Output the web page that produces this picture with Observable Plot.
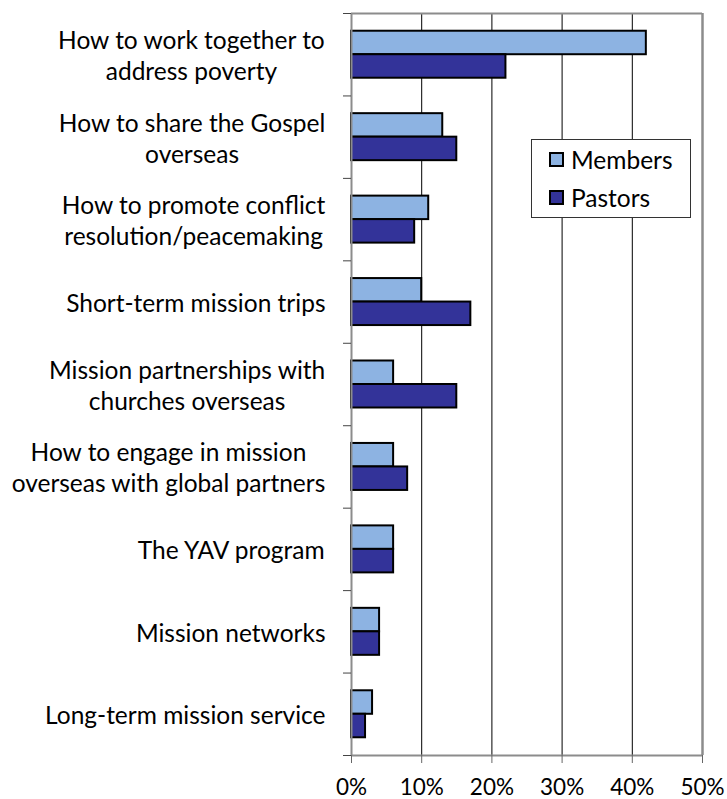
<!DOCTYPE html>
<html>
<head>
<meta charset="utf-8">
<script src="https://cdn.jsdelivr.net/npm/d3@7"></script>
<script src="https://cdn.jsdelivr.net/npm/@observablehq/plot@0.6"></script>
<style>
  html, body { margin: 0; padding: 0; background: #fff; }
  #wrap { position: relative; width: 727px; height: 799px; font-family: Lato, sans-serif; }
  #legend { position: absolute; left: 531px; top: 139px; width: 160px; height: 79px;
    border: 1px solid #333; background: #fff; box-sizing: border-box; font-family: Lato, sans-serif; font-size: 24.5px; color: #000; }
  .item { position: absolute; left: 17px; display: flex; align-items: center; }
  .sw { width: 11px; height: 11px; border: 2px solid #000; margin-right: 7px; }
</style>
</head>
<body>
<div id="wrap"><div id="chart"></div><div id="legend"></div></div>
<script>
const categories = [
  "How to work together to\naddress poverty",
  "How to share the Gospel\noverseas",
  "How to promote conflict\nresolution/peacemaking",
  "Short-term mission trips",
  "Mission partnerships with\nchurches overseas",
  "How to engage in mission\noverseas with global partners",
  "The YAV program",
  "Mission networks",
  "Long-term mission service"
];
const members = [42, 13, 11, 10, 6, 6, 6, 4, 3];
const pastors = [22, 15, 9, 17, 15, 8, 6, 4, 2];
const seriesNames = ["Members", "Pastors"];
const seriesColors = ["#8DB3E2", "#333399"];
const xTicks = [0, 10, 20, 30, 40, 50];

const labelSize = 24.5;
const ctx = document.createElement("canvas").getContext("2d");
ctx.font = labelSize + "px Lato";
const blockWidth = s => Math.max(...s.split("\n").map(l => ctx.measureText(l).width));

const rows = [];
categories.forEach((c, i) => {
  rows.push({cat: c, i, series: "Members", value: members[i], y1: i + 0.215, y2: i + 0.5});
  rows.push({cat: c, i, series: "Pastors", value: pastors[i], y1: i + 0.5, y2: i + 0.785});
});
const labelRows = categories.map((c, i) => ({cat: c, i, w: blockWidth(c), yc: i + 0.5}));
const boundaries = d3.range(categories.length + 1);

const chart = Plot.plot({
  width: 727,
  height: 799,
  marginLeft: 351,
  marginRight: 25,
  marginTop: 13,
  marginBottom: 44,
  style: {fontFamily: "Lato, sans-serif", background: "#fff"},
  x: {type: "linear", domain: [0, 50]},
  y: {type: "linear", domain: [0, categories.length], reverse: true},
  color: {domain: seriesNames, range: seriesColors},
  marks: [
    Plot.ruleX([10, 20, 30, 40], {stroke: "#000", strokeWidth: 1}),
    Plot.ruleY([0], {stroke: "#8c8c8c", strokeWidth: 2}),
    Plot.ruleX([50], {stroke: "#8c8c8c", strokeWidth: 2.5}),
    Plot.rect(rows, {x1: () => 0, x2: "value", y1: "y1", y2: "y2", fill: "series", stroke: "#000", strokeWidth: 2}),
    Plot.ruleX([0], {stroke: "#8c8c8c", strokeWidth: 2}),
    Plot.ruleY([categories.length], {stroke: "#8c8c8c", strokeWidth: 2}),
    Plot.axisY({ticks: boundaries, tickSize: 8, tickFormat: () => "", stroke: "#444", label: null}),
    Plot.axisX({ticks: xTicks, tickSize: 8, tickPadding: 16, tickFormat: d => d + "%", fontSize: 22.5, stroke: "#666", label: null, fill: "#000"}),
    Plot.text(labelRows, {x: () => 0, y: "yc", text: "cat", textAnchor: "middle",
      fontSize: labelSize, lineHeight: 1.27, fill: "#000"})
  ]
});
document.getElementById("chart").appendChild(chart);
// shift each label so its widest line ends 26px left of the axis, lines centered
const texts = chart.querySelectorAll("g[aria-label='text'] > text");
texts.forEach((t, k) => {
  const w = labelRows[k].w;
  const tr = t.getAttribute("transform") || "";
  t.setAttribute("transform", tr + ` translate(${-(26 + w / 2)},0)`);
});

const legend = document.getElementById("legend");
seriesNames.forEach((s, k) => {
  const it = document.createElement("div");
  it.className = "item";
  it.style.top = (k === 0 ? 5 : 43) + "px";
  it.innerHTML = `<div class="sw" style="background:${seriesColors[k]}"></div><span>${s}</span>`;
  legend.appendChild(it);
});
</script>
</body>
</html>
